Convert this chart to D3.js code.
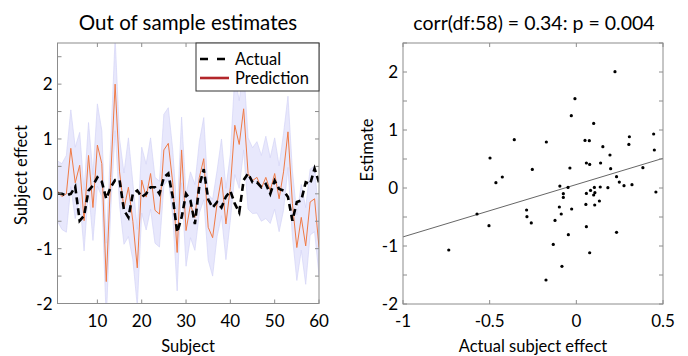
<!DOCTYPE html>
<html><head><meta charset="utf-8">
<script src="https://cdn.jsdelivr.net/npm/d3@7"></script>
<style>
body{margin:0;background:#fff;}
text{font-family:Lato,"Open Sans",sans-serif;fill:#000;}
</style></head>
<body><svg id="c" width="688" height="356"></svg>
<script>
// ---- data: left panel (per subject) ----
const subjects = d3.range(1, 61);
const actual = [0,0,-0.03,0,0.13,-0.49,-0.4,0.06,0.15,0.3,
  0.22,-0.09,0.12,0.25,0.25,-0.3,-0.43,0,0.06,-0.06,
  0,0.12,0.12,0,0.3,0.37,-0.06,-0.7,-0.43,0,
  -0.12,-0.55,0.15,0.45,-0.1,-0.25,-0.15,-0.25,-0.05,0.05,
  -0.18,-0.34,0.25,0.37,0.21,0.21,0.12,0.18,0,0.24,
  0.09,0.06,-0.06,-0.49,-0.15,-0.12,0.21,0.18,0.46,0.21];
const prediction = [0.05,-0.05,0,0.83,0.2,0.52,-0.49,0.7,-0.25,0.89,
  0.55,-1.6,0.3,2.0,0.4,-0.27,0.12,-0.5,-1.35,0.25,
  -0.06,0.37,-0.3,-0.37,0.8,0.92,0.2,-1.07,0.8,-0.67,
  -0.2,-0.43,0.3,0.64,-0.61,-0.8,-0.18,0.3,-0.55,0.12,
  1.25,0.9,1.55,0.37,0.24,0.3,0.1,0.3,0.06,0.37,
  -0.09,0.4,1.13,-0.18,-0.98,-0.43,-0.95,-0.15,-0.09,-0.98];
const ciHigh = [0.6,0.55,0.7,1.53,0.85,1.12,0.06,1.3,0.35,1.64,
  1.15,-0.9,0.9,2.85,1.0,0.38,1.02,0.2,-0.65,0.85,
  0.54,1.02,0.3,0.23,1.45,1.57,0.8,-0.37,1.4,-0.02,
  0.4,0.17,0.95,1.39,-0.01,-0.1,0.42,1.0,0.1,0.72,
  2.15,1.7,2.3,1.02,0.84,0.95,0.7,1.05,0.66,1.02,
  0.51,1.1,1.78,0.42,-0.38,0.17,-0.25,0.45,0.51,-0.48];
const ciLow = [-0.5,-0.65,-0.7,0.13,-0.45,-0.08,-1.04,0.1,-0.85,0.14,
  -0.05,-2.3,-0.3,1.15,-0.2,-0.92,-0.78,-1.2,-2.05,-0.35,
  -0.66,-0.28,-0.9,-0.97,0.15,0.27,-0.4,-1.77,0.2,-1.32,
  -0.8,-1.03,-0.35,-0.11,-1.21,-1.5,-0.78,-0.4,-1.2,-0.48,
  0.35,0.1,0.8,-0.28,-0.36,-0.35,-0.5,-0.45,-0.54,-0.28,
  -0.69,-0.3,0.48,-0.78,-1.58,-1.03,-1.65,-0.75,-0.69,-1.48];
const leftXTicks = [10,20,30,40,50,60];
const leftYTicks = [-2,-1,0,1,2];

// ---- data: right panel (scatter) ----
const scatterActual = [-0.358,-0.498,-0.254,-0.427,-0.464,-0.573,-0.287,-0.285,-0.26,-0.504,-0.736,
  0.223,-0.008,-0.029,0.1,-0.173,0.05,0.075,0.306,0.303,0.446,0.45,0.153,0.194,
  -0.037,0.058,0.077,0.14,0.198,0.384,0.232,0.248,0.275,0.321,-0.095,-0.048,0.104,0.138,0.182,
  0.082,0.107,-0.075,0.058,0.1,-0.075,0.459,0.133,0.055,0.106,-0.098,-0.027,-0.087,-0.123,
  0.058,-0.046,0.232,-0.133,0.077,-0.083,-0.175];
const scatterEstimate = [0.833,0.517,0.321,0.19,0.091,-0.448,-0.379,-0.495,-0.603,-0.65,-1.069,
  2.005,1.54,1.247,1.114,0.793,0.821,0.816,0.884,0.752,0.931,0.655,0.712,0.569,
  0.345,0.431,0.407,0.431,0.333,0.35,0.195,0.103,0.04,0.057,0.034,0.01,0.01,0.017,0.005,
  -0.041,-0.081,-0.098,-0.093,-0.121,-0.162,-0.069,-0.224,-0.283,-0.293,-0.328,-0.362,-0.448,-0.559,
  -0.667,-0.805,-0.765,-0.972,-1.116,-1.351,-1.586];
const fitIntercept = 0.06, fitSlope = 0.903;
const rightXTicks = [-1,-0.5,0,0.5];
const rightYTicks = [-2,-1,0,1,2];

const svg = d3.select("#c");
const boxColor = "#8c8c8c";

function frame(g, x, y, xTicks, yTicks, xMinor, yMinor){
  const [x0,x1] = x.range(), [y0,y1] = y.range();
  const tk = 4;
  xMinor.forEach(t=>{
    g.append("line").attr("x1",x(t)).attr("x2",x(t)).attr("y1",y0).attr("y2",y0-tk).attr("stroke",boxColor);
    g.append("line").attr("x1",x(t)).attr("x2",x(t)).attr("y1",y1).attr("y2",y1+tk).attr("stroke",boxColor);
  });
  yMinor.forEach(t=>{
    g.append("line").attr("x1",x0).attr("x2",x0+tk).attr("y1",y(t)).attr("y2",y(t)).attr("stroke",boxColor);
    g.append("line").attr("x1",x1).attr("x2",x1-tk).attr("y1",y(t)).attr("y2",y(t)).attr("stroke",boxColor);
  });
  g.append("rect").attr("x",x0).attr("y",y1).attr("width",x1-x0).attr("height",y0-y1)
    .attr("fill","none").attr("stroke",boxColor).attr("stroke-width",1);
  xTicks.forEach(t=>{
    g.append("text").attr("x",x(t)).attr("y",y0+23).attr("text-anchor","middle")
      .attr("font-size",17).text(t);
  });
  yTicks.forEach(t=>{
    g.append("text").attr("x",x0-5).attr("y",y(t)+6).attr("text-anchor","end")
      .attr("font-size",17).text(t);
  });
}

// ---------- Left panel ----------
const xL = d3.scaleLinear().domain([1,60]).range([57.5,319]);
const yL = d3.scaleLinear().domain([-2,2.75]).range([303.5,43]);
const gL = svg.append("g");
svg.append("defs").append("clipPath").attr("id","clipL").append("rect")
  .attr("x",57.5).attr("y",43).attr("width",319-57.5).attr("height",303.5-43);
const plotL = gL.append("g").attr("clip-path","url(#clipL)");
const area = d3.area().x((d,i)=>xL(subjects[i])).y0((d,i)=>yL(ciLow[i])).y1((d,i)=>yL(ciHigh[i]));
plotL.append("path").datum(subjects).attr("d",area)
  .attr("fill","#e8e8fc").attr("stroke","#d4d4f7").attr("stroke-width",0.7);
const lineP = d3.line().x((d,i)=>xL(subjects[i])).y(d=>yL(d));
plotL.append("path").datum(prediction).attr("d",lineP)
  .attr("fill","none").attr("stroke","#ef7a45").attr("stroke-width",1);
plotL.append("path").datum(actual).attr("d",lineP)
  .attr("fill","none").attr("stroke","#000").attr("stroke-width",2.6).attr("stroke-dasharray","7,4");
frame(gL, xL, yL, leftXTicks, leftYTicks, leftXTicks, d3.range(-2,2.75,0.5));
// legend
const lg = gL.append("g");
lg.append("rect").attr("x",196).attr("y",43).attr("width",123).attr("height",48)
  .attr("fill","#fff").attr("stroke","#333").attr("stroke-width",1);
lg.append("line").attr("x1",200).attr("x2",229).attr("y1",59).attr("y2",59)
  .attr("stroke","#000").attr("stroke-width",2.6).attr("stroke-dasharray","8,9");
lg.append("line").attr("x1",200).attr("x2",229).attr("y1",78).attr("y2",78)
  .attr("stroke","#b3262a").attr("stroke-width",2.6);
lg.append("text").attr("x",235).attr("y",65).attr("font-size",16.5).text("Actual");
lg.append("text").attr("x",235).attr("y",84).attr("font-size",16.5).text("Prediction");
gL.append("text").attr("x",188).attr("y",30).attr("text-anchor","middle").attr("font-size",20.5)
  .text("Out of sample estimates");
gL.append("text").attr("x",188).attr("y",352).attr("text-anchor","middle").attr("font-size",16.5)
  .text("Subject");
gL.append("text").attr("transform","translate(27,175) rotate(-90)").attr("text-anchor","middle")
  .attr("font-size",16.5).text("Subject effect");

// ---------- Right panel ----------
const xR = d3.scaleLinear().domain([-1,0.5]).range([403,663]);
const yR = d3.scaleLinear().domain([-2,2.5]).range([304,43]);
const gR = svg.append("g");
gR.append("line").attr("x1",xR(-1)).attr("x2",xR(0.5))
  .attr("y1",yR(fitIntercept+fitSlope*-1)).attr("y2",yR(fitIntercept+fitSlope*0.5))
  .attr("stroke","#555").attr("stroke-width",0.9);
gR.selectAll("circle").data(scatterActual).join("circle")
  .attr("cx",d=>xR(d)).attr("cy",(d,i)=>yR(scatterEstimate[i])).attr("r",1.6).attr("fill","#000");
frame(gR, xR, yR, rightXTicks, rightYTicks, d3.range(-1,0.51,0.5), d3.range(-2,2.51,0.5));
gR.append("text").attr("x",534).attr("y",30).attr("text-anchor","middle").attr("font-size",19.5)
  .text("corr(df:58) = 0.34: p = 0.004");
gR.append("text").attr("x",533).attr("y",352).attr("text-anchor","middle").attr("font-size",16.5)
  .text("Actual subject effect");
gR.append("text").attr("transform","translate(373,150) rotate(-90)").attr("text-anchor","middle")
  .attr("font-size",16.5).text("Estimate");
</script></body></html>
